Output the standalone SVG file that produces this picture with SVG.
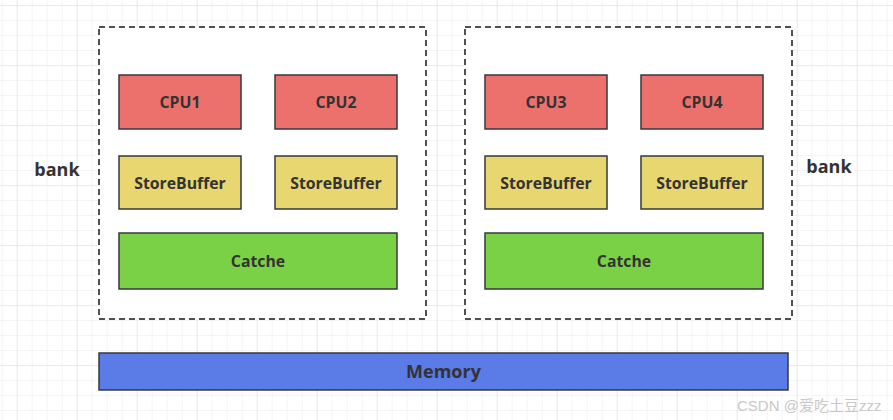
<svg xmlns="http://www.w3.org/2000/svg" width="893" height="420" viewBox="0 0 893 420">
<defs>
<pattern id="minor" x="1.7" y="5" width="15" height="15" patternUnits="userSpaceOnUse">
<path d="M15 0H0V15" fill="none" stroke="#ececec" stroke-width="1"/>
</pattern>
<pattern id="major" x="16.7" y="5" width="60" height="60" patternUnits="userSpaceOnUse">
<path d="M60 0H0V60" fill="none" stroke="#e2e2e2" stroke-width="1"/>
</pattern>
</defs>
<style>
.box{stroke:#36393d;stroke-width:1.5}
.cpu{fill:#ec716d}
.sb{fill:#e8d670}
.cache{fill:#7bd146}
.mem{fill:#5b7be7}
.bank{fill:#fff;stroke:#4d5156;stroke-width:2;stroke-dasharray:6 4}
.t{font-family:"Open Sans","Noto Sans","Liberation Sans",sans-serif;font-weight:bold;fill:#333;text-anchor:middle;dominant-baseline:central;font-size:15.8px}
.big{font-size:18px}
.wm{font-family:"Liberation Sans","Noto Sans CJK SC",sans-serif;fill:#c8c8c8;font-size:15px}
</style>
<rect width="893" height="420" fill="#fff"/>
<rect width="893" height="420" fill="url(#minor)"/>
<rect width="893" height="420" fill="url(#major)"/>

<g id="bank-left">
<rect class="bank" x="99" y="27" width="327" height="292"/>
</g>
<g id="bank-right">
<rect class="bank" x="465" y="27" width="327" height="292"/>
</g>

<g id="cpu1"><rect class="box cpu" x="119" y="75" width="122" height="54"/><text class="t" x="180" y="102">CPU1</text></g>
<g id="cpu2"><rect class="box cpu" x="275" y="75" width="122" height="54"/><text class="t" x="336" y="102">CPU2</text></g>
<g id="cpu3"><rect class="box cpu" x="485" y="75" width="122" height="54"/><text class="t" x="546" y="102">CPU3</text></g>
<g id="cpu4"><rect class="box cpu" x="641" y="75" width="122" height="54"/><text class="t" x="702" y="102">CPU4</text></g>

<g id="sb1"><rect class="box sb" x="119" y="156" width="122" height="53"/><text class="t" x="180" y="182.5">StoreBuffer</text></g>
<g id="sb2"><rect class="box sb" x="275" y="156" width="122" height="53"/><text class="t" x="336" y="182.5">StoreBuffer</text></g>
<g id="sb3"><rect class="box sb" x="485" y="156" width="122" height="53"/><text class="t" x="546" y="182.5">StoreBuffer</text></g>
<g id="sb4"><rect class="box sb" x="641" y="156" width="122" height="53"/><text class="t" x="702" y="182.5">StoreBuffer</text></g>

<g id="cache-left"><rect class="box cache" x="119" y="233" width="278" height="56"/><text class="t" x="258" y="261">Catche</text></g>
<g id="cache-right"><rect class="box cache" x="485" y="233" width="278" height="56"/><text class="t" x="624" y="261">Catche</text></g>

<g id="memory"><rect class="box mem" x="99" y="353" width="689" height="37"/><text class="t big" x="443.5" y="371">Memory</text></g>

<g id="label-bank-left"><text class="t big" x="57" y="169">bank</text></g>
<g id="label-bank-right"><text class="t big" x="829" y="166">bank</text></g>

<g id="connectors"></g>

<text class="wm" x="737" y="411">CSDN @爱吃土豆zzz</text>
</svg>
